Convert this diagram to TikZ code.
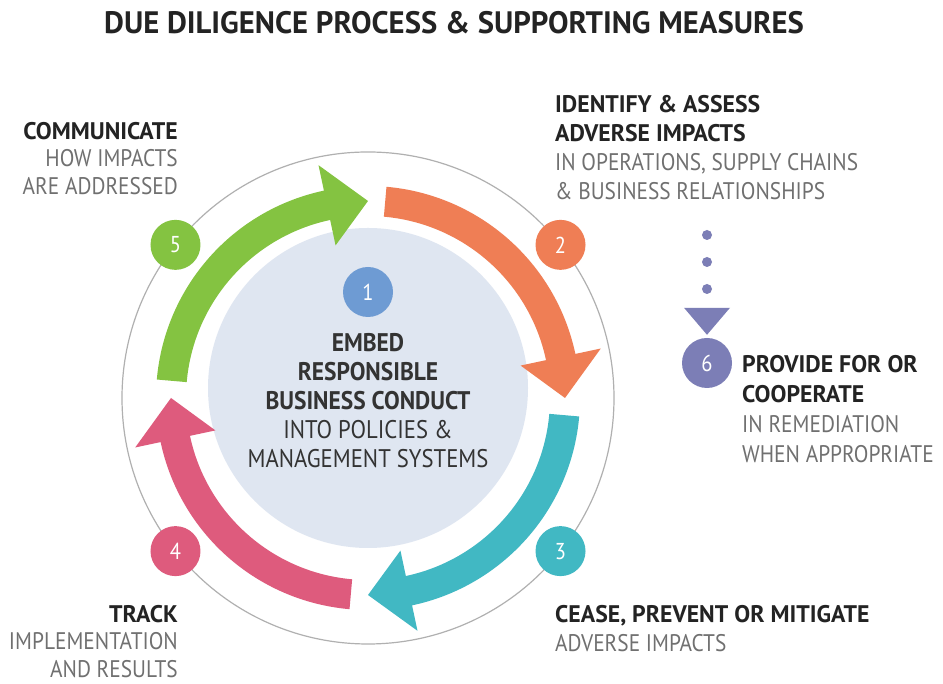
\documentclass[tikz,border=0pt]{standalone}
\usepackage{fontspec}
\setmainfont{PT Sans}
\newfontfamily\ddfont{PT Sans}[FakeStretch=0.89]
\newfontfamily\ddbold{PT Sans Bold}[FakeStretch=0.99]
\newfontfamily\ddcorebold{PT Sans Bold}[FakeStretch=0.92]
\usetikzlibrary{arrows.meta}

\definecolor{ddgreen}{HTML}{84C341}
\definecolor{ddorange}{HTML}{EF7E55}
\definecolor{ddteal}{HTML}{41B8C3}
\definecolor{ddpink}{HTML}{DE5B7D}
\definecolor{ddblue}{HTML}{6E9BD3}
\definecolor{dddisk}{HTML}{DFE6F1}
\definecolor{ddpurple}{HTML}{7C7EB6}
\definecolor{ddring}{HTML}{B0B0B0}
\definecolor{ddhead}{HTML}{232323}
\definecolor{ddsub}{HTML}{707070}
\definecolor{ddcore}{HTML}{333333}

% bold first lines of a label
\newcommand{\ddhd}[1]{{\color{ddhead}\ddbold #1}}

% curved band arrow running clockwise: colour, start angle, head base angle, tip angle
\def\rmid{197}\def\rout{212}\def\rin{182}\def\hout{238}\def\hin{156}
\newcommand{\ddarrow}[4]{%
  \fill[#1] (#2:\rout) arc[start angle=#2, end angle=#3, radius=\rout]
    -- (#3:\hout) -- (#4:\rmid) -- (#3:\hin) -- (#3:\rin)
    arc[start angle=#3, end angle=#2, radius=\rin] -- cycle;}

\begin{document}
\begin{tikzpicture}[x=1pt, y=1pt,
  badge/.style={circle, fill=#1, minimum size=50pt, inner sep=0pt,
    text=white, font=\ddfont\fontsize{23}{23}\selectfont},
  titletext/.style={inner sep=0pt, text=ddhead,
    font=\ddbold\fontsize{31}{32}\selectfont},
  label/.style={inner sep=0pt, text=ddsub,
    font=\ddfont\fontsize{24}{#1}\selectfont},
  core/.style={inner sep=0pt, text=ddcore, align=center, anchor=north,
    font=\ddfont\fontsize{25.5}{29}\selectfont},
  ring/.style={draw=ddring, line width=1.2pt},
  dots/.style={draw=ddpurple, line width=10pt, line cap=round,
    dash pattern=on 0pt off 27pt,
    -{Triangle[width=46pt, length=27pt, fill=ddpurple, line width=0pt]},
    shorten >=3pt}
]
\useasboundingbox (0,0) rectangle (943,684);
\fill[white] (0,0) rectangle (943,684);

\node[titletext] (title) at (454,661) {DUE DILIGENCE PROCESS \& SUPPORTING MEASURES};

\begin{scope}[shift={(368,286)}]
  \draw[ring] (0,0) circle[radius=246];
  \fill[dddisk] (0,10) circle[radius=160];

  \ddarrow{ddgreen}{175}{102}{90}
  \ddarrow{ddorange}{85}{12}{0}
  \ddarrow{ddteal}{-5}{-78}{-90}
  \ddarrow{ddpink}{-95}{-168}{-180}

  \node[badge=ddorange] (b2) at (38.5:246) {2};
  \node[badge=ddteal] (b3) at (-38.5:246) {3};
  \node[badge=ddpink] (b4) at (218.5:246) {4};
  \node[badge=ddgreen] (b5) at (141.5:246) {5};
  \node[badge=ddblue] (b1) at (0,106) {1};

  \node[core] (embed) at (0,65) {{\ddcorebold EMBED}\\ {\ddcorebold RESPONSIBLE}\\
    {\ddcorebold BUSINESS CONDUCT}\\ INTO POLICIES \&\\ MANAGEMENT SYSTEMS};
\end{scope}

\node[label=27.5, align=right, anchor=north east] (communicate) at (178,562)
  {\ddhd{COMMUNICATE}\\ HOW IMPACTS\\ ARE ADDRESSED};
\node[label=29, align=left, anchor=north west] (identify) at (555,589)
  {\ddhd{IDENTIFY \& ASSESS}\\ \ddhd{ADVERSE IMPACTS}\\
   IN OPERATIONS, SUPPLY CHAINS\\ \& BUSINESS RELATIONSHIPS};
\node[label=27.5, align=right, anchor=north east] (track) at (178,79)
  {\ddhd{TRACK}\\ IMPLEMENTATION\\ AND RESULTS};
\node[label=29, align=left, anchor=north west] (cease) at (555,79)
  {\ddhd{CEASE, PREVENT OR MITIGATE}\\ ADVERSE IMPACTS};

\node[badge=ddpurple] (b6) at (707,321) {6};
\node[label=30, align=left, anchor=north west] (provide) at (742,329)
  {\ddhd{PROVIDE FOR OR}\\ \ddhd{COOPERATE}\\ IN REMEDIATION\\ WHEN APPROPRIATE};

\coordinate (remedy) at (707,449);
\draw[dots] (remedy) -- (b6.north);
\end{tikzpicture}
\end{document}
